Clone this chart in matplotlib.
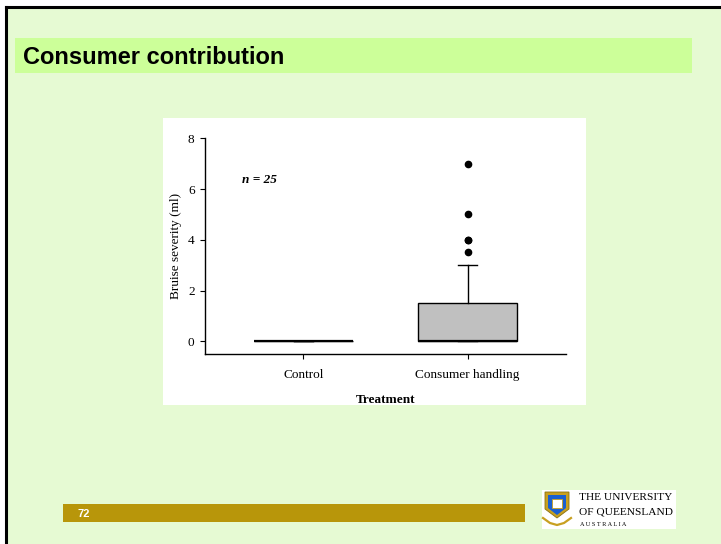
import matplotlib.pyplot as plt
from matplotlib.patches import Rectangle, Polygon

# box plot summary for the two treatments
treatments = ["Control", "Consumer handling"]
q1 = [0, 0]
medians = [0, 0]
q3 = [0, 1.5]
whisker_low = [0, 0]
whisker_high = [0, 3]
outliers = [[], [3.5, 4, 4, 5, 7]]
n_samples = 25

slide_title = "Consumer contribution"
slide_number = "72"

W, H = 721, 544
fig = plt.figure(figsize=(W / 100, H / 100), dpi=100)
fig.patch.set_facecolor("white")

# slide decoration drawn in pixel units
bg = fig.add_axes([0, 0, 1, 1], zorder=0)
bg.set_xlim(0, W)
bg.set_ylim(H, 0)
bg.axis("off")

bg.add_patch(Rectangle((6, 7), W, H, facecolor="#e6fad3", edgecolor="none"))
bg.plot([6, 6], [7, H], color="black", lw=2.2, solid_capstyle="projecting")
bg.plot([6, W], [7, 7], color="black", lw=2.2, solid_capstyle="projecting")
bg.add_patch(Rectangle((15, 38), 677, 35, facecolor="#ccff99", edgecolor="none"))
bg.text(23, 57, slide_title, fontsize=17, fontweight="bold",
        family="Liberation Sans", va="center", ha="left")

bg.add_patch(Rectangle((63, 504), 462, 18, facecolor="#b8960a", edgecolor="none"))
bg.text(77, 514, slide_number, fontsize=8, fontweight="bold", color="white",
        family="Liberation Sans", va="center", ha="left")

# white panel behind the chart
bg.add_patch(Rectangle((163, 118), 423, 287, facecolor="white", edgecolor="none"))

# university logo block
bg.add_patch(Rectangle((542, 490), 134, 39, facecolor="white", edgecolor="none"))
bg.add_patch(Polygon([(545, 492), (569, 492), (569, 509), (557, 518), (545, 509)],
                     closed=True, facecolor="#c8a020", edgecolor="#8a7010", lw=0.6))
bg.add_patch(Polygon([(548, 495), (566, 495), (566, 508), (557, 515), (548, 508)],
                     closed=True, facecolor="#1a5fd0", edgecolor="none"))
bg.add_patch(Rectangle((552, 499), 10, 9, facecolor="white", edgecolor="#c8a020", lw=0.6))
bg.plot([543, 550, 557, 564, 571], [518, 523, 525, 523, 518], color="#c8a020", lw=1.6)
bg.text(579, 497, "THE UNIVERSITY", fontsize=8.2, family="Liberation Serif",
        va="center", ha="left")
bg.text(579, 512, "OF QUEENSLAND", fontsize=8.2, family="Liberation Serif",
        va="center", ha="left")
bg.text(580, 524, "A U S T R A L I A", fontsize=4.5, family="Liberation Serif",
        va="center", ha="left")

# the box plot
ax = fig.add_axes([205 / W, 1 - 354 / H, (566 - 205) / W, (354 - 138.3) / H], zorder=2)
ax.set_facecolor("white")

stats = []
for i, name in enumerate(treatments):
    stats.append({
        "label": name,
        "q1": q1[i], "med": medians[i], "q3": q3[i],
        "whislo": whisker_low[i], "whishi": whisker_high[i],
        "fliers": outliers[i],
    })

ax.bxp(stats, positions=[1, 2], widths=0.6, capwidths=0.12, patch_artist=True,
       boxprops=dict(facecolor="#c0c0c0", edgecolor="black", linewidth=1.0),
       medianprops=dict(color="black", linewidth=1.6),
       whiskerprops=dict(color="black", linewidth=1.0),
       capprops=dict(color="black", linewidth=1.0),
       flierprops=dict(marker="o", markerfacecolor="black", markeredgecolor="black",
                       markersize=4.5))

ax.set_xlim(0.4, 2.6)
ax.set_ylim(-0.5, 8)
ax.set_yticks([0, 2, 4, 6, 8])
ax.spines["top"].set_visible(False)
ax.spines["right"].set_visible(False)
for s in ("left", "bottom"):
    ax.spines[s].set_linewidth(1.0)
ax.tick_params(direction="out", length=3.5, width=0.8, labelsize=9.5)
ax.tick_params(axis="y", pad=4)
ax.tick_params(axis="x", pad=7)
for lbl in ax.get_xticklabels() + ax.get_yticklabels():
    lbl.set_family("Liberation Serif")

ax.set_ylabel("Bruise severity (ml)", fontsize=9.5, family="Liberation Serif", labelpad=4)
ax.set_xlabel("Treatment", fontsize=9.5, family="Liberation Serif",
              fontweight="bold", labelpad=10)
ax.text(0.626, 6.37, f"n = {n_samples}", fontsize=9.5, family="Liberation Serif",
        fontweight="bold", fontstyle="italic", va="center", ha="left")

fig.savefig("out.png", dpi=100, facecolor=fig.get_facecolor())
